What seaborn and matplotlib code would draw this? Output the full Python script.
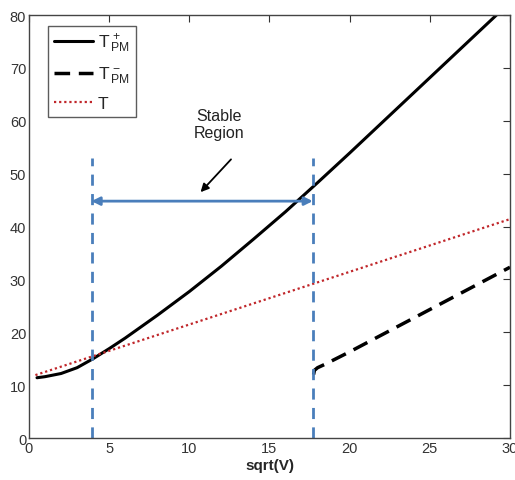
import matplotlib
matplotlib.use("Agg")
import matplotlib.pyplot as plt
import seaborn as sns
import pandas as pd

# Torque curves against sqrt(V)
x_plus = [0.5, 1, 2, 3, 4, 5, 6, 8, 10, 12, 14, 16, 18, 20, 22, 24, 26, 28, 30]
t_plus = [11.4, 11.6, 12.2, 13.3, 15.0, 16.9, 18.9, 23.2, 27.7, 32.5, 37.6, 42.8,
          48.3, 53.9, 59.6, 65.3, 71.0, 76.7, 82.4]

x_minus = [17.75, 17.8, 18.0, 18.5, 20, 22, 24, 26, 28, 30]
t_minus = [12.0, 12.8, 13.3, 14.0, 16.3, 19.5, 22.7, 25.9, 29.1, 32.3]

x_t = [0.4, 30]
t_line = [11.9, 41.4]

# Stable region bounds
bounds = [3.9, 17.7]
bound_top = 53
arrow_y = 44.8

sns.set_theme(style="white")
plt.rcParams["font.family"] = ["Liberation Sans", "DejaVu Sans"]
plt.rcParams["mathtext.fontset"] = "custom"
plt.rcParams["mathtext.rm"] = "Liberation Sans"
plt.rcParams["mathtext.it"] = "Liberation Sans"
plt.rcParams["mathtext.bf"] = "Liberation Sans:bold"

fig = plt.figure(figsize=(5.15, 4.81), dpi=100)
ax = fig.add_axes([0.0563, 0.0873, 0.934, 0.8794])

df_plus = pd.DataFrame({"x": x_plus, "y": t_plus})
df_minus = pd.DataFrame({"x": x_minus, "y": t_minus})
df_t = pd.DataFrame({"x": x_t, "y": t_line})

sns.lineplot(data=df_plus, x="x", y="y", ax=ax, color="black", lw=2.2,
             label=r"$\mathrm{T}^{\,+}_{\,\mathrm{PM}}$")
sns.lineplot(data=df_minus, x="x", y="y", ax=ax, color="black", lw=2.5,
             label=r"$\mathrm{T}^{\,-}_{\,\mathrm{PM}}$")
ax.lines[-1].set_dashes([4.5, 2.5])
sns.lineplot(data=df_t, x="x", y="y", ax=ax, color="#C0262A", lw=1.6,
             label="T")
ax.lines[-1].set_linestyle((0, (1, 1.3)))

# Region boundaries and span arrow
ax.vlines(bounds, 0, bound_top, colors="#4A7EBB", lw=2, linestyles=(0, (4, 3)))
ax.annotate("", xy=(bounds[0], arrow_y), xytext=(bounds[1], arrow_y),
            arrowprops=dict(arrowstyle="<|-|>", color="#4A7EBB", lw=2,
                            mutation_scale=12, shrinkA=0, shrinkB=0))
ax.annotate("", xy=(10.7, 46.5), xytext=(12.6, 52.7),
            arrowprops=dict(arrowstyle="-|>", color="black", lw=1.3,
                            mutation_scale=12, shrinkA=0, shrinkB=0))
ax.text(11.85, 59.4, "Stable\nRegion", ha="center", va="center",
        fontsize=11.5, color="#222222", linespacing=1.1)

ax.set_xlim(0, 30)
ax.set_ylim(0, 80)
ax.set_xticks([0, 5, 10, 15, 20, 25, 30])
ax.set_yticks([0, 10, 20, 30, 40, 50, 60, 70, 80])
ax.set_xlabel("sqrt(V)", fontsize=11, fontweight="bold", labelpad=2)
ax.set_ylabel("")
ax.tick_params(direction="in", length=5, width=0.8, colors="#333333",
               top=True, right=True, labelsize=10.5, pad=2)
for s in ax.spines.values():
    s.set_color("#444444")
    s.set_linewidth(1.0)

leg = ax.legend(loc="upper left", bbox_to_anchor=(0.022, 0.995), fontsize=12.5,
                handlelength=2.2, labelspacing=0.6, borderpad=0.35,
                handletextpad=0.3, fancybox=False, frameon=True)
leg.get_frame().set_edgecolor("#333333")
leg.get_frame().set_linewidth(1.0)

fig.savefig("out.png", dpi=100)
